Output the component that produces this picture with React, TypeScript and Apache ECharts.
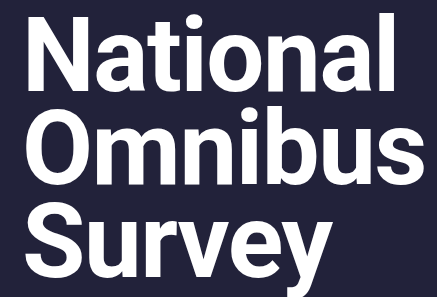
import React, { useEffect, useRef } from "react";
import * as echarts from "echarts";

const titleLines = ["National", "Omnibus", "Survey"];
const baselines = [86, 179, 272];

export default function App() {
  const ref = useRef<HTMLDivElement>(null);
  useEffect(() => {
    document.body.style.margin = "0";
    const chart = echarts.init(ref.current!, null, { renderer: "svg" });
    chart.setOption({
      animation: false,
      backgroundColor: "#22223a",
      graphic: titleLines.map((t, i) => ({
        type: "text",
        left: 22,
        top: baselines[i] - 82,
        style: {
          text: t,
          fill: "#ffffff",
          fontFamily: "Roboto",
          fontWeight: "bold",
          fontSize: 103,
          verticalAlign: "top",
        },
      })),
    });
    return () => chart.dispose();
  }, []);
  return (
    <>
      <style>{"#chart svg text { letter-spacing: -1.4px; }"}</style>
      <div id="chart" ref={ref} style={{ position: "fixed", left: 0, top: 0, width: 437, height: 297 }} />
    </>
  );
}
